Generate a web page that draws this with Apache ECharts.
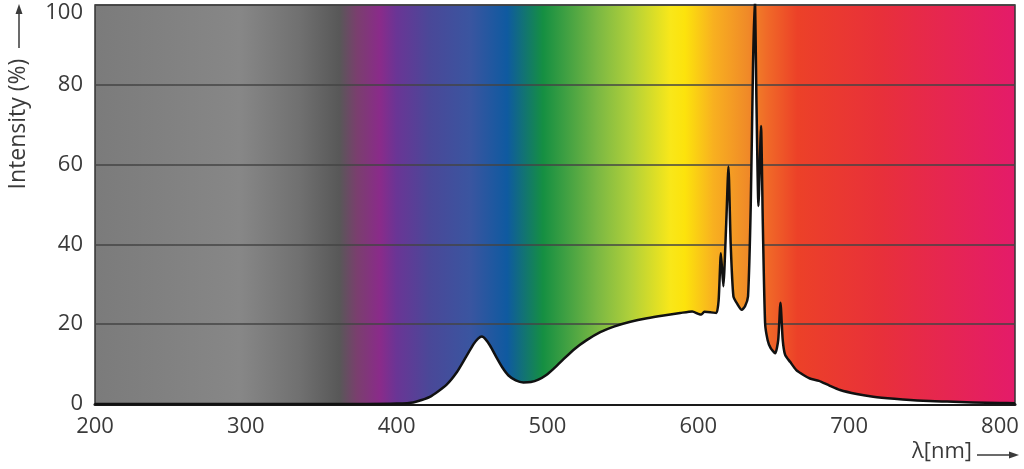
<!DOCTYPE html>
<html lang="en">
<head>
    <meta charset="utf-8">
    <title>Spectrum</title>
    <script src="https://cdn.jsdelivr.net/npm/echarts@6/dist/echarts.min.js"></script>
    <style>
        html, body { margin: 0; padding: 0; background: #fff; }
        #chart1 { width: 1024px; height: 469px; }
    </style>
</head>
<body>
<div id="chart1"></div>
<script type="text/javascript">
    // wavelength (nm) and relative intensity (%)
    var wavelength = [200, 380, 400, 411, 422, 433, 440, 446, 451, 454, 456.5, 459, 462, 466, 470, 474, 479, 484, 489, 494, 499,
        504, 510, 518, 526, 535, 544, 555, 566, 577, 588, 596, 600, 602, 604, 608, 612,
        613.5, 615, 616.6, 618.5, 620, 621.5, 623.3, 626, 628.8, 631, 633, 634.8, 636.3, 637.5,
        638.6, 639.9, 641.6, 642.8, 644.3, 646, 648, 651, 653, 654.5, 656, 657.6, 661, 665,
        670, 674, 680, 687, 694, 705, 716, 730, 749, 765, 782, 800, 810];
    var intensity = [0, 0, 0.1, 0.4, 1.8, 4.8, 8.0, 11.8, 15.0, 16.4, 16.9, 16.2, 14.6, 11.8, 9.2, 7.2, 5.9, 5.4, 5.5, 6.1, 7.2,
        8.8, 11, 13.8, 16, 18, 19.4, 20.6, 21.5, 22.2, 22.8, 23.2, 22.6, 22.4, 23.1, 23.0, 22.8,
        26, 37.8, 29.5, 45, 59.5, 40, 27, 25, 23.6, 24.5, 27, 50, 85, 102,
        75, 49.6, 69.7, 45, 20.3, 16, 14, 12.7, 16, 25.4, 16, 12.3, 10.5, 8.5,
        7.2, 6.4, 5.8, 4.6, 3.5, 2.5, 1.8, 1.3, 0.8, 0.6, 0.4, 0.25, 0.2];
    var yTicks = [0, 20, 40, 60, 80, 100];

    var points = wavelength.map(function (w, i) { return [w, intensity[i]]; });

    var spectrum = new echarts.graphic.LinearGradient(0, 0, 1, 0, [
        { offset: 0, color: '#7b7b7b' },
        { offset: 0.158, color: '#878787' },
        { offset: 0.223, color: '#707070' },
        { offset: 0.266, color: '#585858' },
        { offset: 0.285, color: '#7a3f6e' },
        { offset: 0.31, color: '#8a2b8a' },
        { offset: 0.328, color: '#6a3595' },
        { offset: 0.364, color: '#4a4898' },
        { offset: 0.408, color: '#3a55a0' },
        { offset: 0.448, color: '#0f5aa0' },
        { offset: 0.487, color: '#158f42' },
        { offset: 0.546, color: '#7ab843' },
        { offset: 0.582, color: '#b0d03a' },
        { offset: 0.625, color: '#f8e71a' },
        { offset: 0.641, color: '#fce30c' },
        { offset: 0.672, color: '#f8b020' },
        { offset: 0.709, color: '#f08a28' },
        { offset: 0.73, color: '#f06a28' },
        { offset: 0.763, color: '#ec4128' },
        { offset: 0.853, color: '#e8303a' },
        { offset: 1, color: '#e41b6a' }
    ]);

    var myChart = echarts.init(document.getElementById("chart1"));
    myChart.setOption({
        animation: false,
        textStyle: { fontFamily: 'Open Sans' },
        grid: {
            left: 95, right: 9, top: 5, bottom: 65,
            outerBoundsMode: 'none',
            containLabel: false,
            show: true,
            backgroundColor: spectrum,
            borderColor: '#333',
            borderWidth: 1.5
        },
        xAxis: {
            type: 'value',
            min: 200,
            max: 810,
            interval: 100,
            axisLine: { show: true, onZero: false, lineStyle: { color: '#1a1a1a', width: 3 } },
            axisTick: { show: false },
            splitLine: { show: false },
            axisLabel: { showMaxLabel: false, color: '#3a3a3a', fontSize: 22, margin: 12 }
        },
        yAxis: {
            type: 'value',
            min: yTicks[0],
            max: yTicks[yTicks.length - 1],
            interval: 20,
            axisLine: { show: false },
            axisTick: { show: false },
            splitLine: { show: true, lineStyle: { color: '#454545', width: 1.5 } },
            axisLabel: {
                color: '#3a3a3a', fontSize: 22, margin: 12,
                formatter: function (v) { return v === 100 ? '{top|' + v + '}' : String(v); },
                rich: { top: { fontSize: 22, color: '#3a3a3a', padding: [16, 0, 0, 0] } }
            }
        },
        graphic: [
            {
                type: 'text', x: 18, y: 124, rotation: Math.PI / 2,
                style: { text: 'Intensity (%)', fill: '#3a3a3a', fontSize: 23, fontFamily: 'Open Sans',
                    align: 'center', verticalAlign: 'middle' }
            },
            { type: 'line', shape: { x1: 19, y1: 48, x2: 19, y2: 12 }, style: { stroke: '#3a3a3a', lineWidth: 1.5 } },
            { type: 'polygon', shape: { points: [[19, 4], [15.5, 14], [22.5, 14]] }, style: { fill: '#3a3a3a' } },
            {
                type: 'text', x: 942, y: 452,
                style: { text: 'λ[nm]', fill: '#3a3a3a', fontSize: 22, fontFamily: 'Open Sans',
                    align: 'center', verticalAlign: 'middle' }
            },
            { type: 'line', shape: { x1: 977, y1: 455, x2: 1010, y2: 455 }, style: { stroke: '#3a3a3a', lineWidth: 1.5 } },
            { type: 'polygon', shape: { points: [[1019, 455], [1009, 451.5], [1009, 458.5]] }, style: { fill: '#3a3a3a' } }
        ],
        series: [
            {
                type: 'line',
                data: points,
                symbol: 'none',
                smooth: 0.2,
                clip: true,
                lineStyle: { color: '#111', width: 2.5, join: 'round' },
                areaStyle: { color: '#ffffff', opacity: 1 }
            }
        ]
    });
</script>
</body>
</html>
